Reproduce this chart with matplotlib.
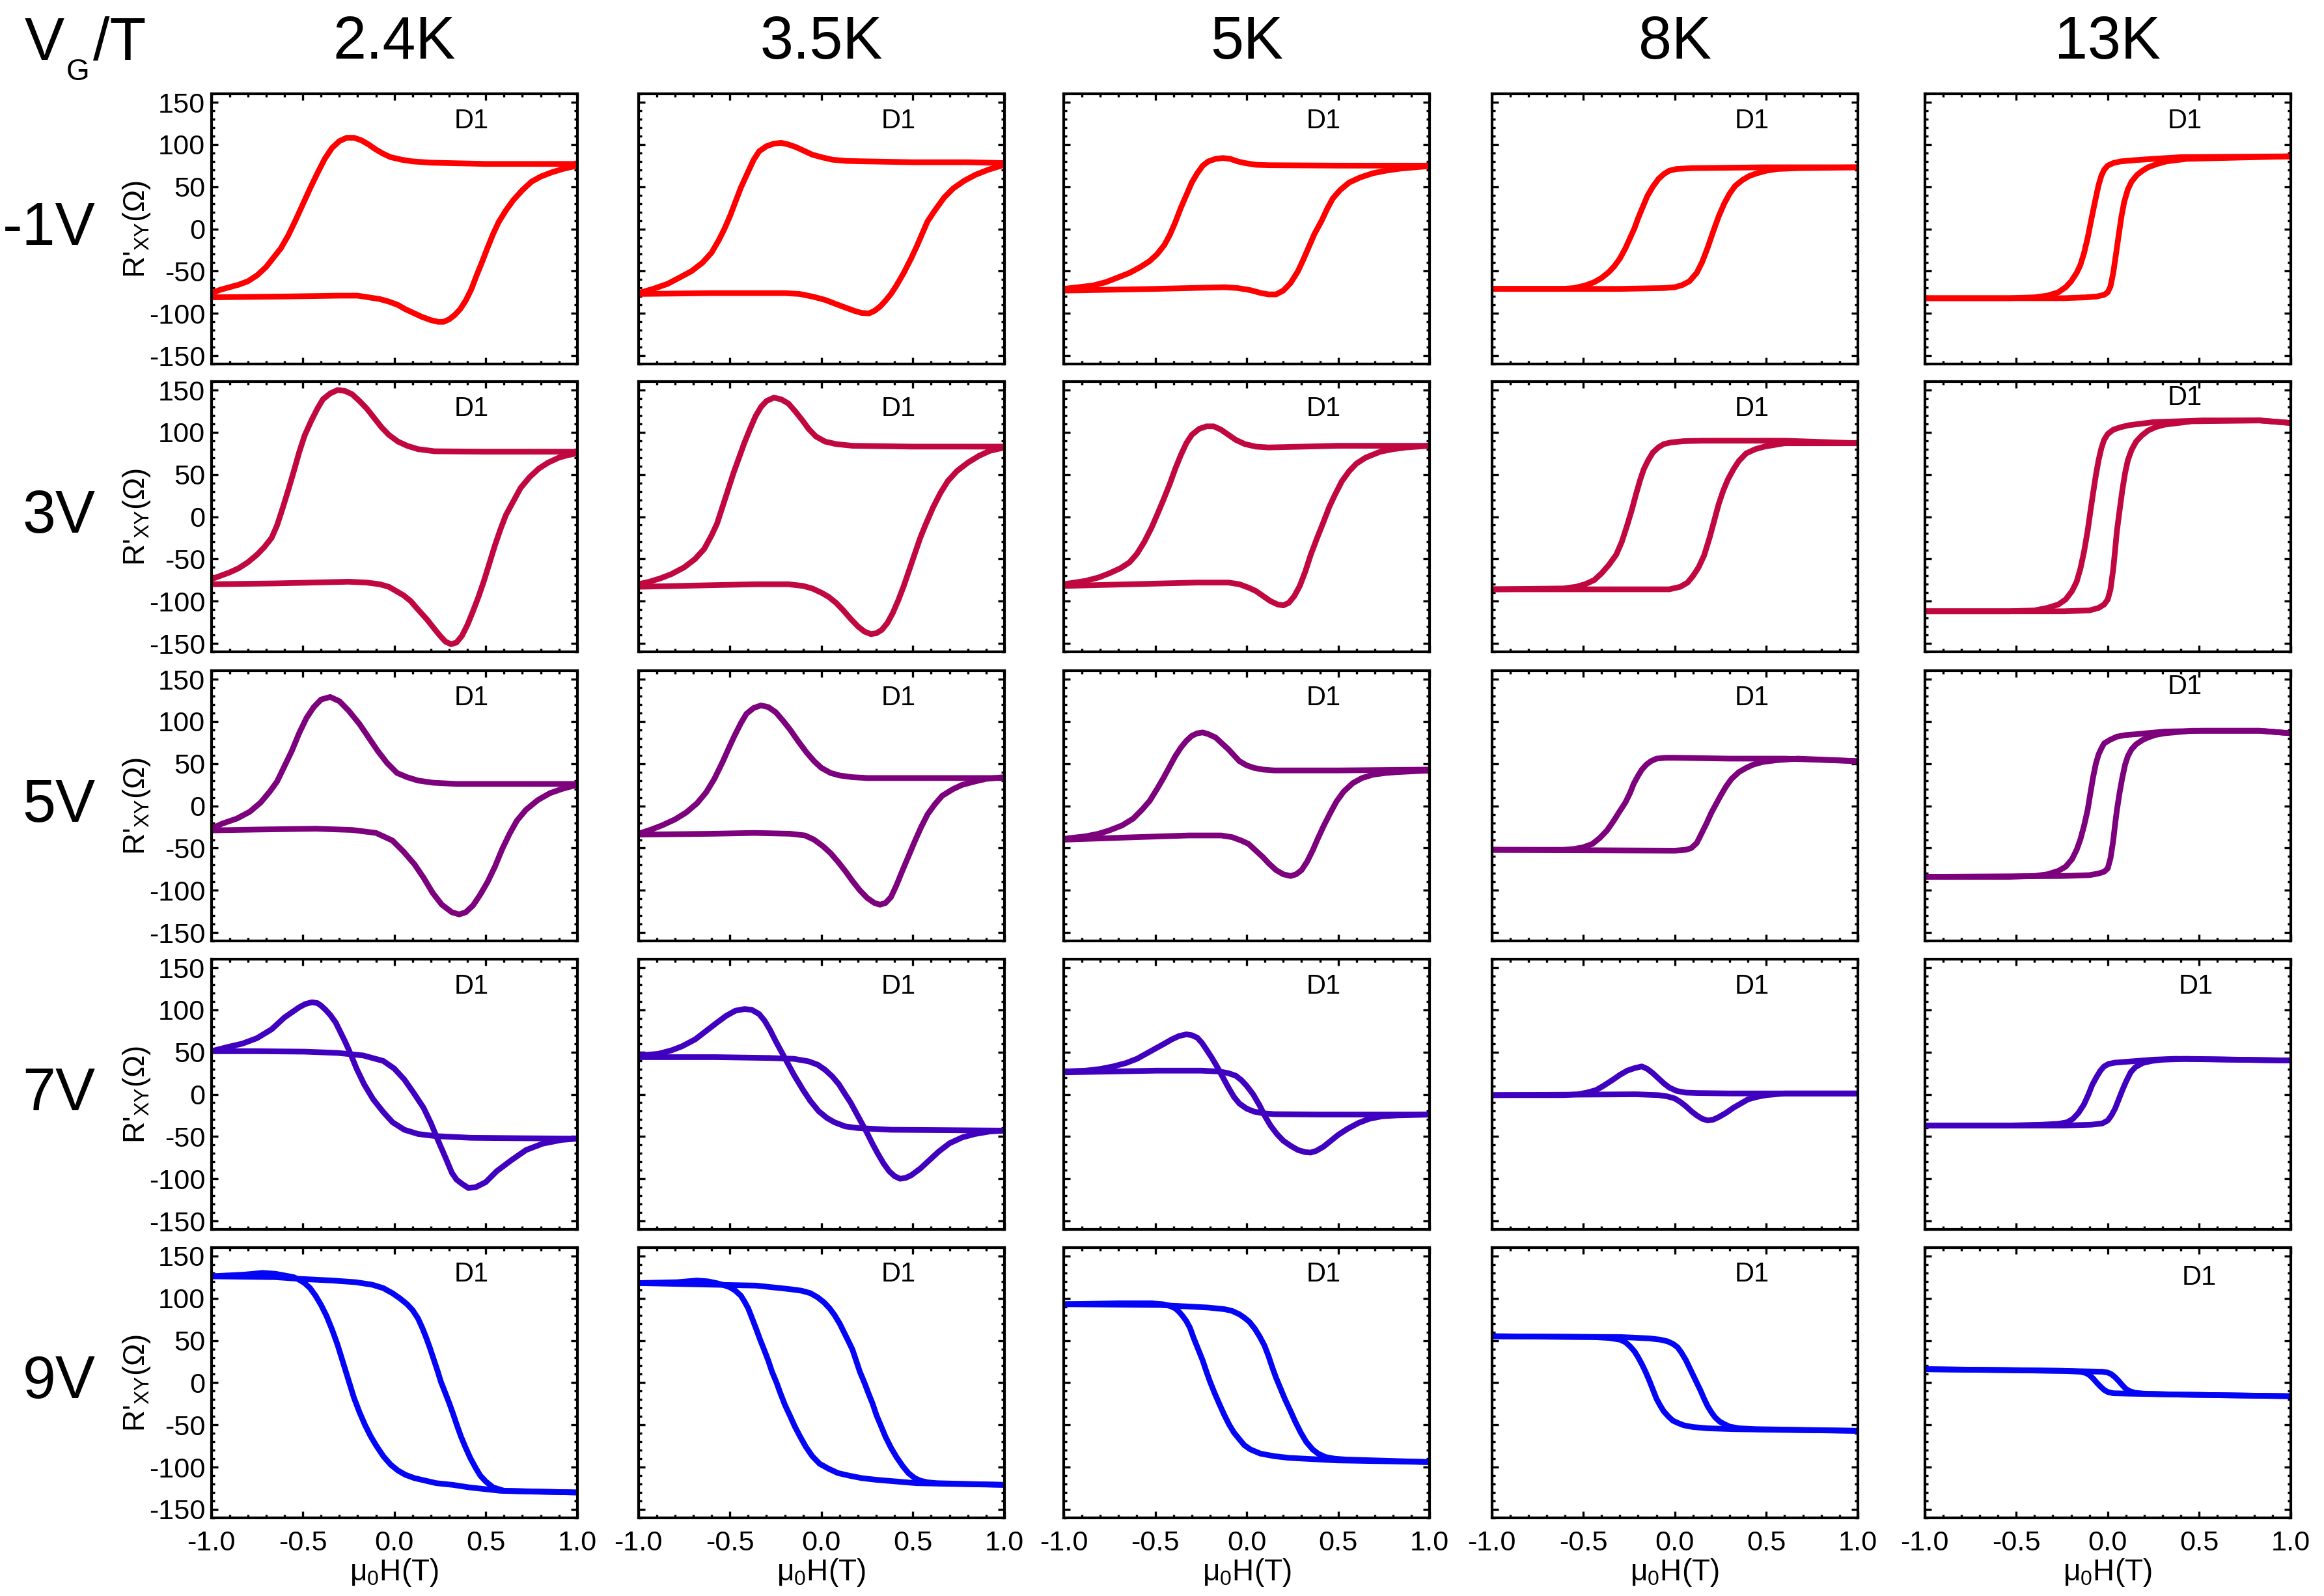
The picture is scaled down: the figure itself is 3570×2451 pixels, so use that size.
import matplotlib
matplotlib.use("Agg")
import matplotlib.pyplot as plt
from matplotlib.ticker import MultipleLocator, FixedLocator, FixedFormatter

plt.rcParams['font.family'] = ['Liberation Sans', 'DejaVu Sans']
plt.rcParams['mathtext.fontset'] = 'custom'
plt.rcParams['mathtext.rm'] = 'Liberation Sans'
plt.rcParams['axes.unicode_minus'] = False

# ---------------- data (mu0H in T, R'xy in Ohm) ----------------
gates = ['-1V', '3V', '5V', '7V', '9V']
temps = ['2.4K', '3.5K', '5K', '8K', '13K']
row_colors = ['#FF0000', '#C1073F', '#7D007D', '#4000C0', '#0505F5']

x_ticks = [-1.0, -0.5, 0.0, 0.5, 1.0]
x_tick_labels = ['-1.0', '-0.5', '0.0', '0.5', '1.0']
y_ticks = [-150, -100, -50, 0, 50, 100, 150]
y_tick_labels = ['-150', '-100', '-50', '0', '50', '100', '150']

# ---- -1 V ----
R_m1V_2p4K_a = [(-1.0,-76),(-0.95,-72),(-0.90,-69),(-0.85,-66),(-0.80,-62),(-0.75,-55),(-0.70,-45),(-0.66,-34),(-0.62,-23),(-0.58,-8),(-0.54,10),(-0.50,29),(-0.46,48),(-0.42,66),(-0.38,83),(-0.34,96),(-0.30,104),(-0.26,108),(-0.22,108),(-0.18,105),(-0.14,100),(-0.10,94),(-0.06,89),(-0.02,85),(0.04,82),(0.10,80),(0.20,78.5),(0.5,77),(0.8,77),(1.0,77)]
R_m1V_2p4K_b = [(-1.0,-81),(-0.6,-80),(-0.30,-79),(-0.20,-79),(-0.14,-81),(-0.08,-83),(-0.03,-86),(0.02,-90),(0.06,-95),(0.10,-99),(0.15,-104),(0.20,-108),(0.24,-110),(0.27,-110),(0.30,-107),(0.33,-102),(0.36,-95),(0.39,-85),(0.42,-72),(0.45,-55),(0.48,-39),(0.51,-22),(0.54,-6),(0.57,8),(0.61,22),(0.65,34),(0.70,46),(0.75,56),(0.80,62),(0.86,67),(0.92,71),(1.0,75)]
R_m1V_3p5K_a = [(-1.0,-76),(-0.92,-71),(-0.84,-65),(-0.77,-57),(-0.71,-50),(-0.65,-40),(-0.60,-28),(-0.56,-13),(-0.53,0),(-0.50,15),(-0.47,32),(-0.44,49),(-0.40,68),(-0.37,82),(-0.34,92),(-0.30,98),(-0.26,101),(-0.22,102),(-0.18,100),(-0.14,97),(-0.10,93),(-0.05,88),(0.0,85),(0.06,82),(0.14,80.5),(0.25,80),(0.5,79),(0.8,79),(1.0,78)]
R_m1V_3p5K_b = [(-1.0,-77),(-0.6,-76),(-0.20,-76),(-0.12,-77),(-0.05,-80),(0.02,-84),(0.08,-89),(0.13,-93),(0.18,-97),(0.22,-99.5),(0.26,-100),(0.29,-97),(0.32,-92),(0.35,-85),(0.38,-77),(0.41,-67),(0.45,-52),(0.49,-35),(0.52,-21),(0.55,-6),(0.58,9),(0.62,22),(0.67,37),(0.72,48),(0.78,57),(0.84,64),(0.91,70),(1.0,76)]
R_m1V_5K_a = [(-1.0,-71),(-0.92,-69),(-0.84,-67),(-0.77,-63),(-0.71,-58),(-0.64,-52),(-0.58,-45),(-0.53,-38),(-0.49,-30),(-0.45,-19),(-0.42,-7),(-0.39,8),(-0.36,25),(-0.33,40),(-0.30,55),(-0.27,66),(-0.24,75),(-0.21,80),(-0.17,83),(-0.13,84),(-0.09,83),(-0.05,80),(-0.01,78),(0.05,76),(0.12,75.5),(0.5,75),(1.0,75)]
R_m1V_5K_b = [(-1.0,-73),(-0.5,-71),(-0.12,-69),(-0.05,-70),(0.02,-72.5),(0.08,-76),(0.12,-77.5),(0.16,-77.5),(0.20,-73),(0.24,-64),(0.28,-50),(0.31,-36),(0.34,-21),(0.37,-6),(0.41,10),(0.44,24),(0.47,36),(0.51,46),(0.56,55),(0.62,61),(0.69,66),(0.76,69),(0.84,71.5),(0.92,73),(1.0,74.5)]
R_m1V_8K_a = [(-1.0,-71),(-0.61,-71),(-0.55,-70),(-0.49,-67),(-0.44,-63),(-0.40,-58),(-0.36,-51),(-0.33,-44),(-0.30,-35),(-0.27,-23),(-0.245,-11),(-0.22,1),(-0.20,13),(-0.175,26),(-0.15,39),(-0.12,50),(-0.09,59),(-0.06,65),(-0.03,69),(0.01,71),(0.09,72),(0.5,73),(1.0,73)]
R_m1V_8K_b = [(-1.0,-71),(-0.3,-71),(-0.06,-70),(0.0,-69),(0.04,-66.5),(0.08,-62),(0.12,-52),(0.15,-39),(0.18,-22),(0.21,-3),(0.24,15),(0.27,30),(0.30,42),(0.33,51),(0.37,58),(0.41,63),(0.45,66),(0.50,69),(0.56,71),(0.67,72),(1.0,73)]
R_m1V_13K_a = [(-1.0,-82),(-0.54,-82),(-0.40,-81),(-0.33,-79),(-0.27,-75),(-0.23,-69),(-0.20,-62),(-0.17,-52),(-0.15,-43),(-0.13,-29),(-0.11,-11),(-0.09,11),(-0.07,32),(-0.05,52),(-0.035,63),(-0.02,70),(0.0,75),(0.03,78),(0.07,80),(0.15,81.5),(0.25,83),(0.4,85),(1.0,86)]
R_m1V_13K_b = [(-1.0,-82),(-0.24,-82),(-0.12,-81),(-0.06,-80),(-0.02,-78),(0.0,-75),(0.015,-68),(0.03,-52),(0.045,-30),(0.06,-7),(0.075,15),(0.09,32),(0.11,47),(0.13,56),(0.16,64),(0.19,69),(0.22,73),(0.27,77),(0.32,80),(0.43,83),(1.0,86)]

# ---- 3 V ----
R_3V_2p4K_a = [(-1.0,-74),(-0.95,-70),(-0.90,-66),(-0.85,-61),(-0.80,-54),(-0.75,-45),(-0.71,-36),(-0.67,-25),(-0.64,-10),(-0.61,10),(-0.58,31),(-0.55,53),(-0.52,76),(-0.49,96),(-0.455,113),(-0.42,128),(-0.39,139),(-0.35,146),(-0.31,150),(-0.27,149),(-0.23,145),(-0.19,137),(-0.15,128),(-0.11,117),(-0.07,106),(-0.03,97),(0.02,89),(0.07,84),(0.13,80),(0.22,77.5),(0.5,77),(1.0,77)]
R_3V_2p4K_b = [(-1.0,-80),(-0.65,-79),(-0.25,-77),(-0.15,-78),(-0.08,-80),(-0.03,-83),(0.01,-88),(0.05,-93),(0.09,-100),(0.13,-110),(0.18,-122),(0.22,-133),(0.25,-141),(0.28,-148),(0.31,-151),(0.34,-149),(0.37,-141),(0.40,-128),(0.43,-112),(0.46,-95),(0.49,-76),(0.52,-55),(0.55,-34),(0.58,-15),(0.61,2),(0.65,18),(0.69,34),(0.74,47),(0.79,57),(0.84,64),(0.90,70),(0.95,73),(1.0,75)]
R_3V_3p5K_a = [(-1.0,-80),(-0.94,-77),(-0.88,-73),(-0.82,-68),(-0.75,-60),(-0.69,-50),(-0.64,-38),(-0.60,-22),(-0.57,-8),(-0.54,12),(-0.51,32),(-0.48,52),(-0.45,70),(-0.42,88),(-0.39,104),(-0.36,119),(-0.33,130),(-0.30,137),(-0.26,141),(-0.22,139),(-0.18,134),(-0.14,124),(-0.10,113),(-0.07,104),(-0.03,95),(0.02,89),(0.08,86),(0.17,84),(0.5,83),(1.0,83)]
R_3V_3p5K_b = [(-1.0,-83),(-0.36,-80),(-0.18,-80),(-0.10,-82),(-0.05,-85),(0.0,-90),(0.04,-95),(0.08,-102),(0.12,-111),(0.16,-121),(0.20,-130),(0.235,-136),(0.27,-139),(0.30,-138),(0.33,-134),(0.36,-126),(0.39,-114),(0.42,-99),(0.45,-82),(0.48,-63),(0.51,-44),(0.54,-25),(0.57,-9),(0.61,11),(0.65,28),(0.69,42),(0.74,54),(0.80,64),(0.86,72),(0.92,78),(1.0,82)]
R_3V_5K_a = [(-1.0,-80),(-0.94,-78),(-0.88,-76),(-0.81,-72),(-0.75,-67),(-0.69,-61),(-0.64,-54),(-0.60,-44),(-0.56,-30),(-0.52,-13),(-0.49,2),(-0.455,20),(-0.42,39),(-0.39,57),(-0.36,73),(-0.33,87),(-0.30,97),(-0.26,104),(-0.22,107),(-0.18,107),(-0.14,103),(-0.10,97),(-0.06,91),(-0.01,86),(0.05,83),(0.12,82),(0.5,84),(1.0,84)]
R_3V_5K_b = [(-1.0,-82),(-0.27,-78),(-0.10,-78),(-0.04,-80),(0.01,-84),(0.05,-88),(0.09,-94),(0.13,-100),(0.17,-104),(0.20,-105),(0.23,-102),(0.26,-94),(0.29,-82),(0.32,-65),(0.35,-45),(0.385,-25),(0.42,-6),(0.45,11),(0.48,25),(0.52,42),(0.56,54),(0.60,63),(0.65,70),(0.73,77),(0.80,80),(0.87,82),(1.0,84)]
R_3V_8K_a = [(-1.0,-86),(-0.61,-85),(-0.54,-83),(-0.49,-80),(-0.44,-75),(-0.40,-67),(-0.36,-57),(-0.32,-45),(-0.29,-30),(-0.26,-10),(-0.235,8),(-0.21,28),(-0.19,43),(-0.17,56),(-0.145,67),(-0.12,76),(-0.09,82),(-0.06,86),(-0.02,88),(0.05,89.5),(0.15,90),(0.6,90),(1.0,87)]
R_3V_8K_b = [(-1.0,-86),(-0.03,-86),(0.03,-83),(0.07,-78),(0.10,-70),(0.13,-60),(0.16,-46),(0.19,-25),(0.215,-5),(0.24,15),(0.265,31),(0.29,44),(0.32,56),(0.35,66),(0.39,75),(0.44,80),(0.49,83),(0.6,87),(1.0,87)]
R_3V_13K_a = [(-1.0,-112),(-0.54,-112),(-0.40,-111),(-0.33,-108),(-0.27,-104),(-0.23,-98),(-0.195,-88),(-0.17,-77),(-0.15,-62),(-0.13,-42),(-0.11,-17),(-0.095,6),(-0.08,28),(-0.065,49),(-0.05,67),(-0.035,81),(-0.02,91),(0.0,98),(0.03,103),(0.07,106),(0.12,108.5),(0.25,112),(0.52,114),(0.83,114),(1.0,111)]
R_3V_13K_b = [(-1.0,-112),(-0.24,-112),(-0.10,-111),(-0.05,-108),(-0.02,-104),(0.0,-98),(0.015,-86),(0.03,-62),(0.04,-40),(0.05,-17),(0.065,8),(0.08,32),(0.095,52),(0.11,67),(0.13,79),(0.155,89),(0.185,96),(0.22,102),(0.26,106),(0.31,109),(0.46,113),(0.83,114),(1.0,111)]

# ---- 5 V ----
R_5V_2p4K_a = [(-1.0,-27),(-0.94,-21),(-0.86,-15),(-0.79,-7),(-0.73,4),(-0.68,17),(-0.64,29),(-0.60,47),(-0.56,65),(-0.52,86),(-0.48,104),(-0.44,117),(-0.40,126),(-0.35,129),(-0.30,124),(-0.25,113),(-0.19,97),(-0.14,81),(-0.09,65),(-0.04,51),(0.015,39),(0.07,34),(0.13,30),(0.21,27.5),(0.34,26),(0.55,26),(1.0,26)]
R_5V_2p4K_b = [(-1.0,-29),(-0.75,-28),(-0.43,-27),(-0.23,-28.5),(-0.10,-32),(-0.01,-41),(0.05,-54),(0.11,-69),(0.16,-85),(0.21,-103),(0.26,-117),(0.315,-126),(0.355,-128.5),(0.39,-126),(0.43,-118),(0.47,-105),(0.51,-90),(0.55,-72),(0.59,-51),(0.63,-33),(0.67,-17.5),(0.72,-4.5),(0.785,7),(0.85,15),(0.915,20),(1.0,25)]
R_5V_3p5K_a = [(-1.0,-33),(-0.93,-28),(-0.87,-23),(-0.80,-16),(-0.74,-8),(-0.68,3),(-0.63,16),(-0.585,32),(-0.54,52),(-0.505,69),(-0.475,83),(-0.44,98),(-0.41,109),(-0.37,116),(-0.33,119),(-0.29,117),(-0.25,111),(-0.21,101),(-0.17,90),(-0.125,76),(-0.08,63),(-0.04,53),(0.0,45),(0.05,39),(0.10,36),(0.17,34),(0.25,33),(0.6,33),(1.0,33)]
R_5V_3p5K_b = [(-1.0,-34),(-0.6,-33),(-0.365,-32),(-0.17,-33),(-0.09,-35),(-0.04,-40),(0.01,-48),(0.05,-56),(0.09,-66),(0.13,-77),(0.17,-89),(0.21,-100),(0.25,-109),(0.29,-115),(0.32,-117),(0.35,-115),(0.38,-108),(0.41,-94),(0.44,-78),(0.475,-60),(0.51,-42),(0.545,-25),(0.58,-10),(0.62,2),(0.66,12),(0.72,20),(0.77,25),(0.84,29),(0.90,32),(1.0,34)]
R_5V_5K_a = [(-1.0,-39),(-0.88,-36),(-0.81,-33),(-0.75,-29),(-0.68,-23),(-0.62,-15),(-0.57,-4),(-0.53,6),(-0.49,20),(-0.455,33),(-0.42,47),(-0.39,59),(-0.36,69),(-0.33,77),(-0.30,83),(-0.27,86),(-0.24,87),(-0.21,85),(-0.17,81),(-0.14,75),(-0.10,67),(-0.07,60),(-0.04,53),(0.0,48),(0.04,45),(0.09,43),(0.15,42),(0.5,42),(1.0,43)]
R_5V_5K_b = [(-1.0,-40),(-0.6,-37),(-0.315,-35),(-0.14,-35),(-0.08,-37),(-0.03,-41),(0.01,-45),(0.05,-53),(0.09,-61),(0.12,-68),(0.16,-76),(0.20,-81),(0.24,-83),(0.27,-81),(0.30,-76),(0.33,-66),(0.36,-53),(0.39,-38),(0.42,-24),(0.455,-9),(0.49,5),(0.53,17),(0.58,27),(0.63,33),(0.69,37),(0.76,39),(0.82,40),(1.0,42)]
R_5V_8K_a = [(-1.0,-52),(-0.61,-52),(-0.55,-51),(-0.50,-49),(-0.45,-45),(-0.41,-38),(-0.37,-29),(-0.335,-18),(-0.30,-6),(-0.27,4),(-0.245,15),(-0.225,26),(-0.20,36),(-0.18,43),(-0.155,49),(-0.13,53),(-0.10,56),(-0.05,57),(0.0,57),(0.3,56),(0.6,56),(1.0,53)]
R_5V_8K_b = [(-1.0,-52),(0.0,-53),(0.06,-52),(0.09,-50),(0.12,-44),(0.15,-31),(0.175,-20),(0.20,-8),(0.225,2),(0.25,12),(0.28,23),(0.31,32),(0.35,40),(0.39,45),(0.43,49),(0.48,52),(0.55,54),(0.67,56),(1.0,53)]
R_5V_13K_a = [(-1.0,-84),(-0.54,-84),(-0.40,-83),(-0.33,-81),(-0.27,-77),(-0.23,-72),(-0.195,-63),(-0.17,-52),(-0.15,-40),(-0.13,-24),(-0.11,-5),(-0.095,15),(-0.08,34),(-0.065,50),(-0.05,61),(-0.035,68),(-0.02,74),(0.01,78),(0.05,82),(0.10,84),(0.16,85),(0.31,88),(0.52,89),(0.83,89),(1.0,86)]
R_5V_13K_b = [(-1.0,-84),(-0.24,-83),(-0.10,-82),(-0.05,-80),(-0.02,-78),(0.0,-74),(0.015,-62),(0.03,-41),(0.04,-22),(0.05,-5),(0.065,16),(0.08,34),(0.095,49),(0.11,59),(0.13,67),(0.155,73),(0.19,78),(0.22,81),(0.26,84),(0.31,86),(0.46,89),(0.83,89),(1.0,86)]

# ---- 7 V ----
R_7V_2p4K_a = [(-1.0,51),(-0.91,56),(-0.83,60),(-0.75,66.5),(-0.67,77),(-0.60,91),(-0.52,103),(-0.485,107),(-0.45,109),(-0.42,108),(-0.40,105),(-0.375,100),(-0.35,94),(-0.32,85),(-0.295,74),(-0.27,63),(-0.245,51),(-0.205,30),(-0.165,12),(-0.115,-6),(-0.06,-21),(-0.01,-33),(0.055,-42),(0.13,-47),(0.225,-49.5),(0.42,-51.5),(0.68,-52),(1.0,-52.5)]
R_7V_2p4K_b = [(-1.0,51),(-0.75,51),(-0.49,50.5),(-0.31,49),(-0.17,46),(-0.06,39.5),(0.0,30.5),(0.055,17.5),(0.105,2),(0.16,-16),(0.20,-34),(0.24,-55),(0.28,-75),(0.315,-93),(0.34,-101),(0.37,-106),(0.405,-111),(0.445,-110),(0.50,-104),(0.56,-91),(0.64,-78),(0.72,-66),(0.81,-58.5),(0.915,-54),(1.0,-52.5)]
R_7V_3p5K_a = [(-1.0,46),(-0.94,47),(-0.89,48),(-0.82,52),(-0.76,57),(-0.69,65),(-0.63,75),(-0.57,85),(-0.52,93),(-0.47,99),(-0.42,101),(-0.38,100),(-0.34,95),(-0.31,87),(-0.28,76),(-0.25,63),(-0.22,51),(-0.19,39),(-0.15,23),(-0.10,5),(-0.06,-8),(-0.015,-20),(0.03,-28),(0.07,-33),(0.13,-38),(0.20,-40),(0.38,-42),(1.0,-43)]
R_7V_3p5K_b = [(-1.0,44),(-0.58,44),(-0.28,43),(-0.15,42),(-0.07,39),(-0.02,35),(0.02,29),(0.06,21),(0.095,12),(0.13,0),(0.16,-10),(0.19,-22),(0.22,-34),(0.25,-46),(0.28,-59),(0.31,-71),(0.34,-82),(0.37,-91),(0.40,-97),(0.43,-100),(0.46,-99),(0.49,-96),(0.54,-88),(0.59,-78),(0.64,-68),(0.70,-58),(0.77,-51),(0.84,-47),(0.92,-44),(1.0,-43)]
R_7V_5K_a = [(-1.0,27),(-0.88,28),(-0.80,30),(-0.73,33),(-0.66,37),(-0.60,42),(-0.55,48),(-0.50,54),(-0.45,60),(-0.41,65),(-0.37,69),(-0.33,71),(-0.30,70),(-0.27,67),(-0.245,61),(-0.22,53),(-0.19,43),(-0.16,32),(-0.13,20),(-0.10,8),(-0.07,-3),(-0.04,-11),(0.0,-17),(0.04,-20.5),(0.09,-22.5),(0.15,-23.5),(0.4,-24),(1.0,-24)]
R_7V_5K_b = [(-1.0,26),(-0.49,28),(-0.25,28),(-0.15,27),(-0.10,25),(-0.06,22),(-0.03,17),(0.0,10),(0.035,0),(0.07,-13),(0.10,-26),(0.13,-37),(0.165,-47),(0.20,-55),(0.24,-61),(0.28,-66),(0.32,-68.5),(0.35,-69),(0.38,-67),(0.42,-62),(0.46,-55),(0.50,-48),(0.55,-41),(0.61,-34),(0.67,-29),(0.74,-26),(0.82,-25),(1.0,-24)]
R_7V_8K_a = [(-1.0,-1),(-0.61,-1),(-0.53,0),(-0.48,2),(-0.43,5),(-0.39,10),(-0.34,17),(-0.30,23),(-0.26,28),(-0.22,31),(-0.18,33),(-0.15,30),(-0.12,25),(-0.09,19),(-0.06,13),(-0.03,8),(0.01,4),(0.06,2),(0.12,1.5),(0.3,1),(1.0,1)]
R_7V_8K_b = [(-1.0,-1),(-0.21,0),(-0.09,-1),(-0.04,-2.5),(0.0,-5),(0.03,-9),(0.06,-14),(0.09,-20),(0.12,-25),(0.15,-29),(0.18,-31),(0.21,-30),(0.24,-27),(0.28,-22),(0.32,-16),(0.36,-11),(0.40,-6),(0.45,-3),(0.5,-1),(0.6,1),(1.0,1)]
R_7V_13K_a = [(-1.0,-37),(-0.54,-37),(-0.36,-36),(-0.27,-35),(-0.22,-33),(-0.19,-29),(-0.16,-22),(-0.13,-12),(-0.105,0),(-0.085,11),(-0.06,21),(-0.04,28),(-0.02,33),(0.005,36),(0.04,37.5),(0.1,38.5),(0.25,41),(0.37,42),(1.0,40)]
R_7V_13K_b = [(-1.0,-37),(-0.24,-37),(-0.09,-36),(-0.03,-34.5),(0.0,-31),(0.02,-25),(0.04,-17),(0.06,-6),(0.08,5),(0.10,15),(0.125,26),(0.15,32),(0.19,37),(0.24,39.5),(0.30,41),(0.43,42),(1.0,40)]

# ---- 9 V ----
R_9V_2p4K_a = [(-1.0,126),(-0.82,128),(-0.72,130),(-0.65,129),(-0.60,127),(-0.55,125),(-0.52,122),(-0.49,118),(-0.46,112),(-0.43,103),(-0.40,92),(-0.37,79),(-0.34,63),(-0.31,45),(-0.28,24),(-0.25,3),(-0.22,-18),(-0.19,-35),(-0.16,-50),(-0.13,-63),(-0.10,-74),(-0.06,-87),(-0.02,-97),(0.02,-104),(0.06,-109),(0.11,-113),(0.17,-116),(0.23,-119),(0.32,-121),(0.41,-124),(0.58,-128),(0.76,-129),(1.0,-130)]
R_9V_2p4K_b = [(-1.0,126),(-0.65,125),(-0.52,123),(-0.34,121),(-0.21,119),(-0.12,116),(-0.06,112),(-0.01,106),(0.03,100),(0.07,93),(0.10,86),(0.13,76),(0.155,64),(0.175,53),(0.195,41),(0.215,28),(0.235,15),(0.255,1),(0.275,-10),(0.30,-24),(0.32,-36),(0.345,-52),(0.365,-64),(0.39,-77),(0.415,-89),(0.445,-101),(0.47,-110),(0.50,-117),(0.54,-124),(0.60,-128),(0.8,-129),(1.0,-130)]
R_9V_3p5K_a = [(-1.0,118),(-0.79,119),(-0.68,121),(-0.62,120),(-0.575,118),(-0.54,116),(-0.50,113),(-0.47,109),(-0.44,103),(-0.42,96),(-0.40,88),(-0.38,77),(-0.357,64),(-0.335,51),(-0.313,39),(-0.29,26),(-0.27,13),(-0.245,0),(-0.225,-12),(-0.20,-26),(-0.17,-40),(-0.145,-52),(-0.116,-64),(-0.085,-76),(-0.05,-87),(-0.01,-96),(0.04,-102),(0.09,-107),(0.15,-110),(0.22,-113),(0.30,-115),(0.52,-119),(0.74,-120),(1.0,-121)]
R_9V_3p5K_b = [(-1.0,118),(-0.575,116),(-0.357,115),(-0.18,111),(-0.11,109),(-0.06,106),(-0.02,101),(0.015,95),(0.045,88),(0.072,80),(0.10,70),(0.125,59),(0.15,48),(0.17,39),(0.19,26),(0.21,13),(0.235,0),(0.256,-12),(0.28,-25),(0.30,-38),(0.325,-51),(0.35,-64),(0.38,-77),(0.41,-88),(0.445,-99),(0.475,-107),(0.51,-113),(0.54,-116),(0.58,-118),(0.63,-119),(1.0,-121)]
R_9V_5K_a = [(-1.0,93),(-0.70,94),(-0.52,94),(-0.46,93),(-0.42,91),(-0.39,88),(-0.37,84),(-0.35,79),(-0.33,73),(-0.31,65),(-0.29,53),(-0.264,39),(-0.24,26),(-0.22,13),(-0.20,1),(-0.176,-12),(-0.15,-25),(-0.123,-38),(-0.095,-50),(-0.07,-59),(-0.04,-67),(-0.013,-74),(0.02,-79),(0.075,-84),(0.15,-87),(0.23,-89),(0.49,-92),(1.0,-94)]
R_9V_5K_b = [(-1.0,93),(-0.475,92),(-0.21,89),(-0.12,87),(-0.08,85),(-0.04,81),(-0.013,77),(0.015,72),(0.044,64),(0.07,55),(0.097,44),(0.12,31),(0.14,18),(0.16,6),(0.185,-7),(0.21,-20),(0.238,-33),(0.265,-46),(0.295,-59),(0.325,-70),(0.36,-79),(0.39,-84),(0.43,-88),(0.48,-90),(0.54,-91),(1.0,-94)]
R_9V_8K_a = [(-1.0,55),(-0.44,54),(-0.36,53),(-0.30,51),(-0.27,48),(-0.244,43),(-0.22,37),(-0.20,30),(-0.18,22),(-0.16,13),(-0.14,3),(-0.12,-8),(-0.10,-19),(-0.08,-27),(-0.06,-34),(-0.035,-40),(-0.01,-45),(0.02,-48),(0.05,-50.5),(0.10,-52.5),(0.18,-54),(0.32,-55),(0.625,-56),(1.0,-57)]
R_9V_8K_b = [(-1.0,55),(-0.29,54),(-0.14,52.5),(-0.08,51),(-0.04,49),(-0.01,46),(0.015,42),(0.035,36),(0.06,27),(0.08,18),(0.10,9),(0.12,0),(0.14,-9),(0.16,-19),(0.18,-28),(0.20,-35),(0.22,-41),(0.245,-46),(0.27,-49),(0.30,-52),(0.35,-54),(0.44,-55),(1.0,-57)]
R_9V_13K_a = [(-1.0,16),(-0.55,15),(-0.244,14),(-0.15,13),(-0.12,11.5),(-0.10,9),(-0.08,5),(-0.06,0),(-0.04,-4.5),(-0.02,-8.5),(0.0,-11),(0.03,-12.5),(0.12,-13),(0.366,-14),(0.67,-15),(1.0,-16)]
R_9V_13K_b = [(-1.0,16),(-0.244,14),(-0.03,13),(0.0,12),(0.02,10),(0.04,6.5),(0.06,2),(0.08,-3),(0.10,-7.5),(0.12,-10),(0.15,-12),(0.20,-13),(0.366,-14),(1.0,-16)]

panels = [
    [(R_m1V_2p4K_a, R_m1V_2p4K_b), (R_m1V_3p5K_a, R_m1V_3p5K_b), (R_m1V_5K_a, R_m1V_5K_b), (R_m1V_8K_a, R_m1V_8K_b), (R_m1V_13K_a, R_m1V_13K_b)],
    [(R_3V_2p4K_a, R_3V_2p4K_b), (R_3V_3p5K_a, R_3V_3p5K_b), (R_3V_5K_a, R_3V_5K_b), (R_3V_8K_a, R_3V_8K_b), (R_3V_13K_a, R_3V_13K_b)],
    [(R_5V_2p4K_a, R_5V_2p4K_b), (R_5V_3p5K_a, R_5V_3p5K_b), (R_5V_5K_a, R_5V_5K_b), (R_5V_8K_a, R_5V_8K_b), (R_5V_13K_a, R_5V_13K_b)],
    [(R_7V_2p4K_a, R_7V_2p4K_b), (R_7V_3p5K_a, R_7V_3p5K_b), (R_7V_5K_a, R_7V_5K_b), (R_7V_8K_a, R_7V_8K_b), (R_7V_13K_a, R_7V_13K_b)],
    [(R_9V_2p4K_a, R_9V_2p4K_b), (R_9V_3p5K_a, R_9V_3p5K_b), (R_9V_5K_a, R_9V_5K_b), (R_9V_8K_a, R_9V_8K_b), (R_9V_13K_a, R_9V_13K_b)],
]

# ---------------- layout ----------------
W_IN, H_IN, DPI = 11.9, 8.17, 300
col_left = [0.0909, 0.2747, 0.4577, 0.6419, 0.8282]
row_bottom = [0.7719, 0.5916, 0.4104, 0.2297, 0.0490]
ax_w, ax_h = 0.1575, 0.1693
d1_pos = {(1, 4): (0.71, 0.94), (2, 4): (0.71, 0.94), (3, 4): (0.74, 0.90), (4, 4): (0.75, 0.89)}

fig = plt.figure(figsize=(W_IN, H_IN), dpi=DPI)
fig.patch.set_facecolor('white')

tick_fs = 10.4
for r in range(5):
    for c in range(5):
        ax = fig.add_axes([col_left[c], row_bottom[r], ax_w, ax_h])
        for pts in panels[r][c]:
            xs = [p[0] for p in pts]
            ys = [p[1] for p in pts]
            ax.plot(xs, ys, color=row_colors[r], lw=2.1,
                    solid_joinstyle='round', solid_capstyle='round')
        ax.set_xlim(-1.0, 1.0)
        ax.set_ylim(-160, 160)
        ax.xaxis.set_major_locator(FixedLocator(x_ticks))
        ax.xaxis.set_minor_locator(MultipleLocator(0.1))
        ax.yaxis.set_major_locator(FixedLocator(y_ticks))
        ax.yaxis.set_minor_locator(MultipleLocator(10))
        ax.tick_params(which='both', direction='in', top=True, right=True,
                       width=0.8, labelsize=tick_fs)
        ax.tick_params(which='major', length=2.4)
        ax.tick_params(which='minor', length=1.3)
        ax.tick_params(axis='y', pad=2.2)
        ax.tick_params(axis='x', pad=4.5)
        for sp in ax.spines.values():
            sp.set_linewidth(1.0)
        if c == 0:
            ax.yaxis.set_major_formatter(FixedFormatter(y_tick_labels))
        else:
            ax.set_yticklabels([])
        if r == 4:
            ax.xaxis.set_major_formatter(FixedFormatter(x_tick_labels))
        else:
            ax.set_xticklabels([])
        px, py = d1_pos.get((r, c), (0.71, 0.90))
        ax.text(px, py, 'D1', transform=ax.transAxes, ha='center', va='center',
                fontsize=10)

# column headers
for c, t in enumerate(temps):
    fig.text(col_left[c] + ax_w / 2, 0.9633, t, ha='center', va='baseline',
             fontsize=22)

# V_G/T
fig.text(0.0106, 0.9625, 'V', ha='left', va='baseline', fontsize=22)
fig.text(0.0286, 0.9498, 'G', ha='left', va='baseline', fontsize=11)
fig.text(0.0400, 0.9625, '/T', ha='left', va='baseline', fontsize=22)

# row labels and y labels
for r, g in enumerate(gates):
    yc = row_bottom[r] + ax_h / 2
    fig.text(0.0410, yc, g, ha='right', va='center', fontsize=22)
    fig.text(0.0588, yc, "R'$_{\\mathregular{XY}}$(Ω)", rotation=90,
             ha='center', va='center', fontsize=11)

# x labels
for c in range(5):
    fig.text(col_left[c] + ax_w / 2, 0.0098, "μ$_{\\mathregular{0}}$H(T)",
             ha='center', va='baseline', fontsize=11)

fig.savefig('out.png', dpi=DPI, facecolor='white')
